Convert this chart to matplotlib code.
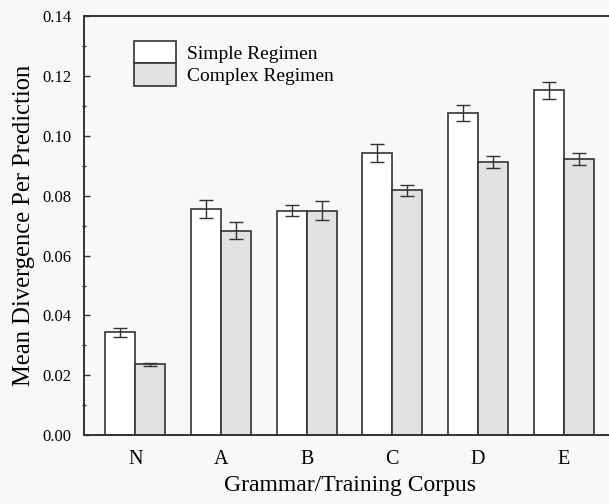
import numpy as np
import matplotlib
matplotlib.use("Agg")
import matplotlib.pyplot as plt
from matplotlib.ticker import MultipleLocator

# ── Data ───────────────────────────────────────────────────────────────────────
corpora      = ["N", "A", "B", "C", "D", "E"]
simple_mean  = [0.0344, 0.0756, 0.0751, 0.0943, 0.1078, 0.1153]
simple_err   = [0.0015, 0.0029, 0.0020, 0.0029, 0.0026, 0.0029]
complex_mean = [0.0237, 0.0684, 0.0751, 0.0818, 0.0912, 0.0924]
complex_err  = [0.0005, 0.0028, 0.0033, 0.0019, 0.0020, 0.0021]

plt.rcParams["font.family"] = ["Liberation Serif", "DejaVu Serif"]

BG = "#f8f8f6"
EDGE = "#333333"

fig = plt.figure(figsize=(6.09, 5.04), dpi=100, facecolor=BG)
ax = fig.add_axes([84 / 609, 69 / 504, 531 / 609, 418.5 / 504])
ax.set_facecolor(BG)

x = np.arange(len(corpora))
w = 0.35

ax.bar(x - w / 2, simple_mean, width=w, color="white", edgecolor=EDGE,
       linewidth=1.2, label="Simple Regimen", zorder=2)
ax.bar(x + w / 2, complex_mean, width=w, color="#e2e2e0", edgecolor=EDGE,
       linewidth=1.2, label="Complex Regimen", zorder=2)
ax.errorbar(x - w / 2, simple_mean, yerr=simple_err, fmt="none",
            ecolor=EDGE, elinewidth=1.0, capsize=4.7, capthick=1.0, zorder=3)
ax.errorbar(x + w / 2, complex_mean, yerr=complex_err, fmt="none",
            ecolor=EDGE, elinewidth=1.0, capsize=4.7, capthick=1.0, zorder=3)

ax.set_xlim(-0.6, 5.6)
ax.set_ylim(0, 0.14)
ax.yaxis.set_major_locator(MultipleLocator(0.02))
ax.yaxis.set_minor_locator(MultipleLocator(0.01))
ax.yaxis.set_major_formatter(plt.FuncFormatter(lambda v, _: f"{v:.2f}"))
ax.tick_params(axis="y", which="major", direction="in", length=4,
               width=1.0, labelsize=12, pad=9, color=EDGE)
ax.tick_params(axis="y", which="minor", direction="inout", length=3,
               width=1.0, color=EDGE)
ax.set_xticks(x)
ax.set_xticklabels(corpora, fontsize=14.5)
ax.tick_params(axis="x", length=0, pad=11)

for s in ["left", "bottom", "top"]:
    ax.spines[s].set_linewidth(1.4)
    ax.spines[s].set_color(EDGE)
ax.spines["right"].set_visible(False)

ax.set_xlabel("Grammar/Training Corpus", fontsize=17, labelpad=4)
ax.set_ylabel("Mean Divergence Per Prediction", fontsize=17.7, labelpad=5)

ax.legend(loc="upper left", bbox_to_anchor=(0.094, 0.942), frameon=False,
          fontsize=14, borderpad=0, borderaxespad=0, labelspacing=0,
          handlelength=2.16, handleheight=1.42, handletextpad=0.57)

fig.savefig("out.png", dpi=100, facecolor=BG)
